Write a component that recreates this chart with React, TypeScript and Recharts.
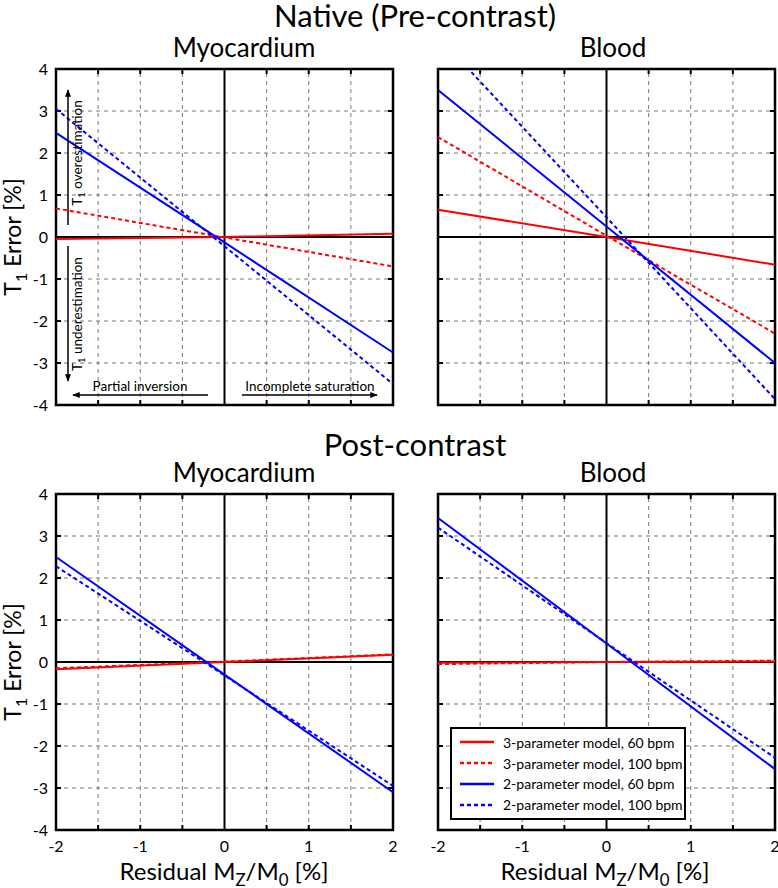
import React from 'react';
import {
  LineChart,
  Line,
  XAxis,
  YAxis,
  ReferenceLine,
  ReferenceArea,
  Legend
} from 'recharts';

const FONT = 'Lato, "Open Sans", sans-serif';

// residual Mz/M0 [%] positions where the curves were read
const xValues = [-2, 0, 2];

const xTicks = [-2, -1, 0, 1, 2];
const yTicks = [-4, -3, -2, -1, 0, 1, 2, 3, 4];
const gridX = [-1.5, -1, -0.5, 0.5, 1, 1.5];
const gridY = [-3, -2, -1, 1, 2, 3];

// T1 error [%] per model
const nativeMyo3p60 = [-0.05, 0.0, 0.08];
const nativeMyo3p100 = [0.68, -0.01, -0.7];
const nativeMyo2p60 = [2.48, -0.13, -2.75];
const nativeMyo2p100 = [3.05, -0.22, -3.5];

const nativeBlood3p60 = [0.65, 0.0, -0.66];
const nativeBlood3p100 = [2.38, 0.03, -2.3];
const nativeBlood2p60 = [3.5, 0.25, -3.0];
const nativeBlood2p100 = [4.78, 0.47, -3.86];

const postMyo3p60 = [-0.17, 0.0, 0.17];
const postMyo3p100 = [-0.15, 0.01, 0.18];
const postMyo2p60 = [2.5, -0.3, -3.1];
const postMyo2p100 = [2.28, -0.32, -2.95];

const postBlood3p60 = [-0.02, 0.0, 0.01];
const postBlood3p100 = [-0.05, 0.0, 0.03];
const postBlood2p60 = [3.43, 0.44, -2.55];
const postBlood2p100 = [3.2, 0.45, -2.28];

const series = [
  { key: 'm3hr60', name: '3-parameter model, 60 bpm', color: '#ff0000', dash: undefined },
  { key: 'm3hr100', name: '3-parameter model, 100 bpm', color: '#ff0000', dash: '4 3' },
  { key: 'm2hr60', name: '2-parameter model, 60 bpm', color: '#0000ff', dash: undefined },
  { key: 'm2hr100', name: '2-parameter model, 100 bpm', color: '#0000ff', dash: '4 3' }
];

const buildData = (a: number[], b: number[], c: number[], d: number[]) =>
  xValues.map((x, i) => ({ x, m3hr60: a[i], m3hr100: b[i], m2hr60: c[i], m2hr100: d[i] }));

const PLOT_W = 337;
const PLOT_H = 336;
const M_LEFT = 50;
const M_TOP = 15;

const LegendBox = () => (
  <div
    style={{
      border: '2px solid #000',
      background: '#fff',
      width: 232,
      height: 86,
      boxSizing: 'content-box',
      paddingTop: 3,
      fontFamily: FONT,
      fontSize: 14,
      color: '#000',
      whiteSpace: 'nowrap'
    }}
  >
    {series.map((s) => (
      <div key={s.key} style={{ display: 'flex', alignItems: 'center', height: 20.8 }}>
        <svg width={45} height={10} style={{ marginLeft: 6, flexShrink: 0 }}>
          <line x1={2} y1={5} x2={36} y2={5} stroke={s.color} strokeWidth={2.5} strokeDasharray={s.dash} />
        </svg>
        <span>{s.name}</span>
      </div>
    ))}
  </div>
);

interface PanelProps {
  plotLeft: number;
  plotTop: number;
  data: any[];
  yLabels?: boolean;
  xLabels?: boolean;
  legend?: boolean;
}

const Panel = ({ plotLeft, plotTop, data, yLabels, xLabels, legend }: PanelProps) => {
  return (
    <div style={{ position: 'absolute', left: plotLeft - M_LEFT, top: plotTop - M_TOP }}>
      <LineChart
        width={M_LEFT + PLOT_W + 10}
        height={M_TOP + PLOT_H + 35}
        data={data}
        margin={{ top: M_TOP, right: 10, left: 0, bottom: 5 }}
      >
        <XAxis
          dataKey="x"
          type="number"
          domain={[-2, 2]}
          ticks={xTicks}
          axisLine={false}
          tickLine={false}
          tick={xLabels ? { fill: '#000', fontSize: 16, fontFamily: FONT } : false}
          tickMargin={5}
          height={30}
        />
        <YAxis
          type="number"
          domain={[-4, 4]}
          ticks={yTicks}
          allowDataOverflow
          axisLine={false}
          tickLine={false}
          tick={yLabels ? { fill: '#000', fontSize: 16, fontFamily: FONT } : false}
          width={M_LEFT}
        />
        {gridX.map((g) => (
          <ReferenceLine key={'gx' + g} x={g} stroke="#777" strokeDasharray="4 4" strokeWidth={1} />
        ))}
        {gridY.map((g) => (
          <ReferenceLine key={'gy' + g} y={g} stroke="#777" strokeDasharray="4 4" strokeWidth={1} />
        ))}
        {gridX.map((g) => (
          <ReferenceLine key={'tb' + g} segment={[{ x: g, y: -4 }, { x: g, y: -3.88 }]} stroke="#000" strokeWidth={2} />
        ))}
        {gridX.map((g) => (
          <ReferenceLine key={'tt' + g} segment={[{ x: g, y: 3.88 }, { x: g, y: 4 }]} stroke="#000" strokeWidth={2} />
        ))}
        {gridY.map((g) => (
          <ReferenceLine key={'tl' + g} segment={[{ x: -2, y: g }, { x: -1.94, y: g }]} stroke="#000" strokeWidth={2} />
        ))}
        {gridY.map((g) => (
          <ReferenceLine key={'tr' + g} segment={[{ x: 1.94, y: g }, { x: 2, y: g }]} stroke="#000" strokeWidth={2} />
        ))}
        <ReferenceLine x={0} stroke="#000" strokeWidth={2} />
        <ReferenceLine y={0} stroke="#000" strokeWidth={2} />
        <ReferenceArea x1={-2} x2={2} y1={-4} y2={4} fill="none" fillOpacity={0} stroke="#000" strokeWidth={2.5} />
        {series.map((s) => (
          <Line
            key={s.key}
            dataKey={s.key}
            name={s.name}
            type="linear"
            stroke={s.color}
            strokeWidth={2}
            strokeDasharray={s.dash}
            dot={false}
            activeDot={false}
            isAnimationActive={false}
          />
        ))}
        {legend && (
          <Legend
            layout="vertical"
            align="center"
            verticalAlign="middle"
            content={() => <LegendBox />}
            wrapperStyle={{ left: 62, top: 248, width: 236 }}
          />
        )}
      </LineChart>
    </div>
  );
};

const Sub = ({ children, size }: { children: React.ReactNode; size: number }) => (
  <tspan dy={size * 0.25} fontSize={size * 0.7}>{children}</tspan>
);

const Overlay = () => (
  <svg
    width={778}
    height={888}
    style={{ position: 'absolute', left: 0, top: 0, pointerEvents: 'none' }}
    fontFamily={FONT}
    fill="#000"
  >
    <defs>
      <marker id="ah" viewBox="0 0 10 10" refX="9" refY="5" markerWidth="5" markerHeight="5" orient="auto">
        <path d="M0,1 L10,5 L0,9 z" fill="#000" />
      </marker>
    </defs>
    <text x={415} y={27} fontSize={31} textAnchor="middle">Native (Pre-contrast)</text>
    <text x={244} y={57} fontSize={26} textAnchor="middle">Myocardium</text>
    <text x={613} y={57} fontSize={26} textAnchor="middle">Blood</text>
    <text x={415} y={456} fontSize={31} textAnchor="middle">Post-contrast</text>
    <text x={244} y={482} fontSize={26} textAnchor="middle">Myocardium</text>
    <text x={613} y={482} fontSize={26} textAnchor="middle">Blood</text>

    {[237, 662].map((cy) => (
      <text key={cy} transform={`translate(21 ${cy}) rotate(-90)`} fontSize={23} textAnchor="middle">
        T<Sub size={23}>1</Sub>
        <tspan dy={-23 * 0.25}> Error [%]</tspan>
      </text>
    ))}
    {[224, 605].map((cx) => (
      <text key={cx} x={cx} y={880} fontSize={24} textAnchor="middle">
        Residual M<Sub size={24}>Z</Sub>
        <tspan dy={-24 * 0.25}>/M</tspan>
        <Sub size={24}>0</Sub>
        <tspan dy={-24 * 0.25}> [%]</tspan>
      </text>
    ))}

    <line x1={68} y1={225} x2={68} y2={90} stroke="#000" strokeWidth={1.5} markerEnd="url(#ah)" />
    <line x1={68} y1={246} x2={68} y2={381} stroke="#000" strokeWidth={1.5} markerEnd="url(#ah)" />
    <line x1={208} y1={395} x2={73} y2={395} stroke="#000" strokeWidth={1.5} markerEnd="url(#ah)" />
    <line x1={242} y1={395} x2={377} y2={395} stroke="#000" strokeWidth={1.5} markerEnd="url(#ah)" />
    <text transform="translate(82 153) rotate(-90)" fontSize={13.5} textAnchor="middle">
      T<Sub size={13.5}>1</Sub>
      <tspan dy={-13.5 * 0.25}> overestimation</tspan>
    </text>
    <text transform="translate(82 314) rotate(-90)" fontSize={13.5} textAnchor="middle">
      T<Sub size={13.5}>1</Sub>
      <tspan dy={-13.5 * 0.25}> underestimation</tspan>
    </text>
    <text x={140} y={391} fontSize={13.5} textAnchor="middle">Partial inversion</text>
    <text x={310} y={391} fontSize={13.5} textAnchor="middle">Incomplete saturation</text>
  </svg>
);

const App = () => {
  return (
    <div style={{ position: 'absolute', left: 0, top: 0, width: 778, height: 888, background: '#fff', overflow: 'hidden' }}>
      <Panel
        plotLeft={56}
        plotTop={69}
        data={buildData(nativeMyo3p60, nativeMyo3p100, nativeMyo2p60, nativeMyo2p100)}
        yLabels
      />
      <Panel
        plotLeft={438}
        plotTop={69}
        data={buildData(nativeBlood3p60, nativeBlood3p100, nativeBlood2p60, nativeBlood2p100)}
      />
      <Panel
        plotLeft={56}
        plotTop={494}
        data={buildData(postMyo3p60, postMyo3p100, postMyo2p60, postMyo2p100)}
        yLabels
        xLabels
      />
      <Panel
        plotLeft={438}
        plotTop={494}
        data={buildData(postBlood3p60, postBlood3p100, postBlood2p60, postBlood2p100)}
        xLabels
        legend
      />
      <Overlay />
    </div>
  );
};

export default App;
